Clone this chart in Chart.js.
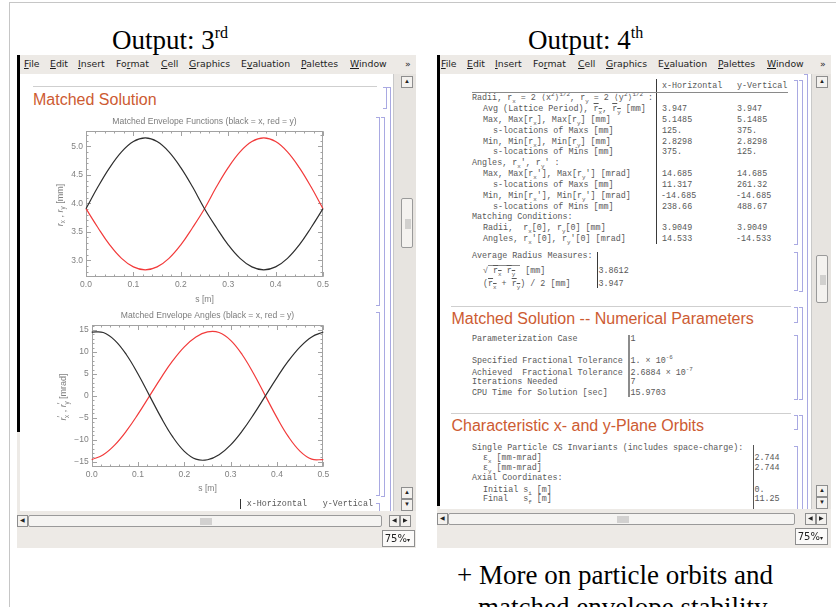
<!DOCTYPE html>
<html>
<head>
<meta charset="utf-8">
<script src="https://cdn.jsdelivr.net/npm/chart.js@4.4.1/dist/chart.umd.min.js"></script>
<style>
html, body { margin: 0; padding: 0; background: #fff; }
body { width: 836px; height: 607px; position: relative; overflow: hidden; font-family: "Liberation Sans", sans-serif; }
.big { font-family: "Liberation Serif", serif; font-size: 27px; line-height: 27px; color: #000; white-space: nowrap; }
.big .sup { font-size: 16px; position: relative; top: -11px; }
.menu { font-family: "DejaVu Sans", sans-serif; font-size: 9.3px; line-height: 9.3px; color: #1e1e1e; white-space: nowrap; }
.sec { font-family: "Liberation Sans", sans-serif; font-size: 16px; line-height: 16px; color: #cd5b32; white-space: nowrap; }
.mono { font-family: "Liberation Mono", monospace; font-size: 8.4px; line-height: 8.4px; color: #585858; white-space: nowrap; }
.mono sub, .mono sup { font-size: 70%; line-height: 0; }
.ytitle { font-family: "Liberation Sans", sans-serif; font-size: 9px; line-height: 9px; color: #808080; white-space: nowrap; transform: translate(-50%, -50%) rotate(-90deg); }
.ytitle sub { font-size: 70%; line-height: 0; }
.ov { text-decoration: overline; }
.btn { background: #f3f1ee; border: 1px solid #8e8e8e; box-sizing: border-box; font-size: 6px; line-height: 9px; text-align: center; color: #222; }
.grip { background-image: radial-gradient(#a8a8a8 0.6px, transparent 0.8px); background-size: 2px 2px; }
</style>
</head>
<body>
<script>
// ---- chart data ----
const sPos = [0, 0.025, 0.05, 0.075, 0.1, 0.125, 0.15, 0.175, 0.2, 0.225, 0.25,
              0.275, 0.3, 0.325, 0.35, 0.375, 0.4, 0.425, 0.45, 0.475, 0.5];
// matched envelope radii [mm]
const rxEnv = [3.905, 4.285, 4.627, 4.904, 5.085, 5.148, 5.085, 4.904, 4.627, 4.285, 3.905,
               3.575, 3.270, 3.032, 2.882, 2.830, 2.882, 3.032, 3.270, 3.575, 3.905];
const ryEnv = [3.905, 3.575, 3.270, 3.032, 2.882, 2.830, 2.882, 3.032, 3.270, 3.575, 3.905,
               4.285, 4.627, 4.904, 5.085, 5.148, 5.085, 4.904, 4.627, 4.285, 3.905];
// matched envelope angles [mrad]
const rxAng = [14.53, 14.42, 12.64, 9.36, 4.97, 0, -4.97, -9.36, -12.64, -14.42, -14.56,
               -13.42, -11.17, -8.00, -4.17, 0, 4.17, 8.00, 11.17, 13.42, 14.53];
const ryAng = [-14.53, -13.42, -11.17, -8.00, -4.17, 0, 4.17, 8.00, 11.17, 13.42, 14.56,
               14.42, 12.64, 9.36, 4.97, 0, -4.97, -9.36, -12.64, -14.42, -14.53];

const sTicks = [0, 0.1, 0.2, 0.3, 0.4, 0.5];
const sTickLabels = ['0.0', '0.1', '0.2', '0.3', '0.4', '0.5'];
const rTicks = [3.0, 3.5, 4.0, 4.5, 5.0];
const rTickLabels = ['3.0', '3.5', '4.0', '4.5', '5.0'];
const aTicks = [-15, -10, -5, 0, 5, 10, 15];
const aTickLabels = ['\u221215', '\u221210', '\u22125', '0', '5', '10', '15'];

// ---- small dom helpers ----
function el(parent, css, html) {
  const d = document.createElement('div');
  d.style.cssText = 'position:absolute;' + css;
  if (html !== undefined) d.innerHTML = html;
  parent.appendChild(d);
  return d;
}
function rect(p, x, y, w, h, extra) {
  return el(p, `left:${x}px;top:${y}px;width:${w}px;height:${h}px;` + (extra || ''));
}
// place text by its baseline; k = baseline offset of the font box
function text(p, cls, k, x, base, html) {
  const d = el(p, `left:${x}px;top:${base - k}px;`, html);
  d.className = cls;
  return d;
}
function bracket(p, x, y1, y2, open) {
  return rect(p, x - 3, y1, 3, y2 - y1,
    'border:1px solid #a9a9e2;border-left:none;' + (open ? 'border-bottom:none;' : ''));
}
const body = document.body;

// slide frame and headings
rect(body, 10, 2, 826, 1, 'background:#c6c6c6');
rect(body, 9, 2, 1, 605, 'background:#c6c6c6');
text(body, 'big', 22.6, 112, 50, 'Output: 3<span class="sup">rd</span>');
text(body, 'big', 22.6, 528, 50, 'Output: 4<span class="sup">th</span>');
text(body, 'big', 22.6, 457, 585, '+ More on particle orbits and');
text(body, 'big', 22.6, 478, 617, 'matched envelope stability');

const menuNames = ['<u>F</u>ile', '<u>E</u>dit', '<u>I</u>nsert', 'Fo<u>r</u>mat', '<u>C</u>ell',
                   '<u>G</u>raphics', 'E<u>v</u>aluation', '<u>P</u>alettes', '<u>W</u>indow'];
const menuOffsets = [0, 26, 54, 92, 137, 165, 217, 277, 326];

function buildWindow(w) {
  const W = w.right - w.x0;
  rect(body, w.x0, 55, W, 493, 'background:#edeae6');
  rect(body, w.x0, 55, 3, w.black - 55, 'background:#000');
  menuNames.forEach((m, i) => text(body, 'menu', 7.9, w.menuX + menuOffsets[i], 66.7, m));
  text(body, 'menu', 7.9, w.right - 11, 66.7, '\u00bb');
  // content
  const c = rect(body, w.x0 + 3, 74, w.cRight - w.x0 - 3, w.cBottom - 74, 'background:#fff;overflow:hidden');
  const inner = el(c, `left:${-(w.x0 + 3)}px;top:-74px;width:836px;height:607px;`);
  rect(body, w.cRight, 74, 1, w.cBottom - 74, 'background:#c9c9c9');
  // vertical scrollbar
  rect(body, w.cRight + 1, 74, w.right - w.cRight - 1, w.cBottom - 74, 'background:#e7e4e0');
  const vb = w.vsBtnX;
  el(body, `left:${vb}px;top:76px;width:12px;height:12px;`, '\u25b2').className = 'btn';
  const th = rect(body, vb, w.thumb[0], 12, w.thumb[1] - w.thumb[0], 'background:#f4f2ef;border:1px solid #9a9a9a;box-sizing:border-box;border-radius:2px');
  rect(th, 3, (w.thumb[1] - w.thumb[0]) / 2 - 5, 6, 10, '').className = 'grip';
  el(body, `left:${vb}px;top:${w.vsBottom - 23}px;width:12px;height:12px;`, '\u25b2').className = 'btn';
  el(body, `left:${vb}px;top:${w.vsBottom - 11}px;width:12px;height:12px;`, '\u25bc').className = 'btn';
  // horizontal scrollbar
  const hy = w.hsY;
  el(body, `left:${w.x0}px;top:${hy}px;width:11px;height:12px;`, '\u25c0').className = 'btn';
  const tr = rect(body, w.x0 + 11, hy, w.trackEnd - w.x0 - 11, 12, 'background:#f5f4f2;border:1px solid #9a9a9a;box-sizing:border-box;border-radius:2px');
  rect(tr, (w.trackEnd - w.x0 - 11) / 2 - 6, 2, 12, 7, '').className = 'grip';
  el(body, `left:${w.hBtnX}px;top:${hy}px;width:11px;height:12px;`, '\u25c0').className = 'btn';
  el(body, `left:${w.hBtnX + 11}px;top:${hy}px;width:11px;height:12px;`, '\u25b6').className = 'btn';
  // zoom box
  el(body, `left:${w.zoom[0]}px;top:${w.zoom[1]}px;width:33px;height:17px;background:#fbfaf9;border:1px solid #8e8e8e;box-sizing:border-box;font-family:'DejaVu Sans',sans-serif;font-size:10px;line-height:15px;color:#222;text-align:right;padding-right:4px;`,
     '75%<span style="font-size:6px">\u25be</span>');
  return inner;
}

const leftW = buildWindow({ x0: 17, right: 416, black: 432, menuX: 24, cRight: 393, cBottom: 511,
  vsBtnX: 401, thumb: [198, 248], vsBottom: 510, hsY: 515, trackEnd: 382, hBtnX: 389, zoom: [382, 530] });
const rightW = buildWindow({ x0: 437, right: 831, black: 506, menuX: 441, cRight: 811, cBottom: 509,
  vsBtnX: 816, thumb: [255, 303], vsBottom: 508, hsY: 513, trackEnd: 795, hBtnX: 805, zoom: [795, 528] });

// ---- left notebook: matched solution plots ----
rect(leftW, 33, 86, 344, 1, 'background:#cfcfcf');
text(leftW, 'sec', 13.5, 33, 105, 'Matched Solution');
bracket(leftW, 386, 87, 107);
bracket(leftW, 390, 87, 530, true);
bracket(leftW, 379, 117, 304);
bracket(leftW, 379, 312, 494);
bracket(leftW, 384, 117, 495);
bracket(leftW, 379, 503, 530, true);

function addCanvas(parent, x, y, w, h) {
  const cv = document.createElement('canvas');
  cv.width = w; cv.height = h;
  cv.style.cssText = `position:absolute;left:${x}px;top:${y}px;width:${w}px;height:${h}px;`;
  parent.appendChild(cv);
  return cv;
}

// Mathematica-style frame with inward ticks on all four sides, plus the plot label
const framePlugin = {
  id: 'frame',
  beforeDatasetsDraw(chart, args, o) {
    const { ctx, chartArea: a } = chart;
    const xs = chart.scales.x, ys = chart.scales.y;
    const L = Math.round(a.left) + 0.5, R = Math.round(a.right) - 0.5;
    const T = Math.round(a.top) + 0.5, B = Math.round(a.bottom) - 0.5;
    ctx.save();
    ctx.strokeStyle = '#a2a2a2';
    ctx.lineWidth = 1;
    ctx.strokeRect(L, T, R - L, B - T);
    ctx.beginPath();
    const markX = (v, len) => {
      const p = Math.round(xs.getPixelForValue(v)) + 0.5;
      ctx.moveTo(p, B); ctx.lineTo(p, B - len);
      ctx.moveTo(p, T); ctx.lineTo(p, T + len);
    };
    const markY = (v, len) => {
      const p = Math.round(ys.getPixelForValue(v)) + 0.5;
      ctx.moveTo(L, p); ctx.lineTo(L + len, p);
      ctx.moveTo(R, p); ctx.lineTo(R - len, p);
    };
    for (let k = Math.ceil(xs.min / o.xMinor - 1e-6); k * o.xMinor <= xs.max + 1e-9; k++) markX(k * o.xMinor, 2);
    for (let k = Math.ceil(ys.min / o.yMinor - 1e-6); k * o.yMinor <= ys.max + 1e-9; k++) markY(k * o.yMinor, 2);
    o.xMajor.forEach(v => markX(v, 4.5));
    o.yMajor.forEach(v => markY(v, 4.5));
    ctx.stroke();
    ctx.fillStyle = '#7c7c7c';
    ctx.font = '8.6px "Liberation Sans"';
    ctx.textAlign = 'center';
    ctx.textBaseline = 'middle';
    ctx.fillText(o.title, (a.left + a.right) / 2, o.titleY);
    ctx.restore();
  }
};

function envelopeChart(cv, cfg) {
  const tickFont = { family: 'Liberation Sans', size: 8.5 };
  return new Chart(cv, {
    type: 'line',
    data: {
      datasets: [
        { label: 'x', data: sPos.map((s, i) => ({ x: s, y: cfg.xs[i] })), borderColor: '#2e2e2e' },
        { label: 'y', data: sPos.map((s, i) => ({ x: s, y: cfg.ys[i] })), borderColor: '#f23a3a' }
      ]
    },
    options: {
      responsive: false,
      animation: false,
      layout: { padding: { left: 0, right: cfg.padRight, top: cfg.padTop, bottom: cfg.padBottom } },
      elements: {
        point: { radius: 0 },
        line: { borderWidth: 1.2, tension: 0.4, fill: false }
      },
      datasets: { line: { clip: 2 } },
      scales: {
        x: {
          type: 'linear', min: 0, max: 0.5,
          grid: { display: false, drawTicks: false },
          border: { display: false },
          afterBuildTicks: s => { s.ticks = sTicks.map(v => ({ value: v })); },
          afterFit: s => { s.height = cfg.xHeight; },
          ticks: { color: '#808080', font: tickFont, padding: 3, maxRotation: 0, autoSkip: false,
                   callback: v => sTickLabels[sTicks.indexOf(v)] },
          title: { display: true, text: 's [m]', color: '#808080', font: { family: 'Liberation Sans', size: 8.6 }, padding: 0 }
        },
        y: {
          type: 'linear', min: cfg.yMin, max: cfg.yMax,
          grid: { display: false, drawTicks: false },
          border: { display: false },
          afterBuildTicks: s => { s.ticks = cfg.yTicks.map(v => ({ value: v })); },
          afterFit: s => { s.width = cfg.yWidth; },
          ticks: { color: '#808080', font: tickFont, padding: 3, autoSkip: false,
                   callback: v => cfg.yLabels[cfg.yTicks.indexOf(v)] }
        }
      },
      plugins: {
        legend: { display: false },
        tooltip: { enabled: false },
        frame: { title: cfg.title, titleY: cfg.titleY, xMinor: 0.02, yMinor: cfg.yMinor,
                 xMajor: sTicks, yMajor: cfg.yTicks }
      }
    },
    plugins: [framePlugin]
  });
}

envelopeChart(addCanvas(leftW, 20, 110, 330, 200), {
  xs: rxEnv, ys: ryEnv, yMin: 2.71, yMax: 5.27, yTicks: rTicks, yLabels: rTickLabels, yMinor: 0.1,
  title: 'Matched Envelope Functions (black = x, red = y)', titleY: 11.7,
  padRight: 27, padTop: 21, padBottom: 5.6, xHeight: 27.7, yWidth: 66
});
envelopeChart(addCanvas(leftW, 20, 305, 330, 200), {
  xs: rxAng, ys: ryAng, yMin: -16.14, yMax: 16.14, yTicks: aTicks, yLabels: aTickLabels, yMinor: 1,
  title: 'Matched Envelope Angles (black = x, red = y)', titleY: 10.7,
  padRight: 26.7, padTop: 20, padBottom: 10.9, xHeight: 27.4, yWidth: 71.7
});
el(leftW, 'left:60px;top:205px;', '<i>r</i><sub>x</sub> , <i>r</i><sub>y</sub> [mm]').className = 'ytitle';
el(leftW, 'left:63px;top:397px;',
   '<i>r</i><span style="position:relative;top:-3px">\u2032</span><sub style="margin-left:-2px">x</sub> , <i>r</i><span style="position:relative;top:-3px">\u2032</span><sub style="margin-left:-2px">y</sub> [mrad]').className = 'ytitle';

rect(leftW, 240, 499, 1, 10, 'background:#333');
text(leftW, 'mono', 6.4, 246.7, 506, 'x-Horizontal');
text(leftW, 'mono', 6.4, 322.7, 506, 'y-Vertical');

// ---- right notebook: tables ----
const R1 = 472, R2 = 483, R3 = 493, V1 = 662, V2 = 737;
const rx = 'r<sub>x</sub>', ry = 'r<sub>y</sub>';
const tableRows = [
  [V1, 88, 'x-Horizontal'], [V2, 88, 'y-Vertical'],
  [R1, 100.5, `Radii, ${rx} = 2 \u27e8x<sup>2</sup>\u27e9<sup>1/2</sup>, ${ry} = 2 \u27e8y<sup>2</sup>\u27e9<sup>1/2</sup> :`],
  [R2, 111.4, `Avg (Lattice Period), <span class="ov">${rx}</span>, <span class="ov">${ry}</span> [mm]`], [V1, 111.4, '3.947'], [V2, 111.4, '3.947'],
  [R2, 122.2, `Max, Max[${rx}], Max[${ry}] [mm]`], [V1, 122.2, '5.1485'], [V2, 122.2, '5.1485'],
  [R3, 133, 's-locations of Maxs [mm]'], [V1, 133, '125.'], [V2, 133, '375.'],
  [R2, 143.9, `Min, Min[${rx}], Min[${ry}] [mm]`], [V1, 143.9, '2.8298'], [V2, 143.9, '2.8298'],
  [R3, 154.7, 's-locations of Mins [mm]'], [V1, 154.7, '375.'], [V2, 154.7, '125.'],
  [R1, 165.6, `Angles, ${rx}', ${ry}' :`],
  [R2, 176.5, `Max, Max[${rx}'], Max[${ry}'] [mrad]`], [V1, 176.5, '14.685'], [V2, 176.5, '14.685'],
  [R3, 187.3, 's-locations of Maxs [mm]'], [V1, 187.3, '11.317'], [V2, 187.3, '261.32'],
  [R2, 198.1, `Min, Min[${rx}'], Min[${ry}'] [mrad]`], [V1 - 1, 198.1, '-14.685'], [V2 - 1, 198.1, '-14.685'],
  [R3, 209, 's-locations of Mins [mm]'], [V1, 209, '238.66'], [V2, 209, '488.67'],
  [R1, 219.8, 'Matching Conditions:'],
  [R2, 230.7, `Radii,&nbsp; ${rx}[0], ${ry}[0] [mm]`], [V1, 230.7, '3.9049'], [V2, 230.7, '3.9049'],
  [R2, 241.5, `Angles, ${rx}'[0], ${ry}'[0] [mrad]`], [V1, 241.5, '14.533'], [V2 - 1, 241.5, '-14.533'],
  [R1, 258.3, 'Average Radius Measures:'],
  [R2, 273, `\u221a<span style="border-top:1px solid #888">&nbsp;<span class="ov">${rx}</span> <span class="ov">${ry}</span>&nbsp;</span> [mm]`], [598.5, 273, '3.8612'],
  [R2, 286, `(<span class="ov">${rx}</span> + <span class="ov">${ry}</span>) / 2 [mm]`], [598.5, 286, '3.947'],
  [R1, 341.7, 'Parameterization Case'], [630.5, 341.7, '1'],
  [R1, 363.3, 'Specified Fractional Tolerance'], [630.5, 363.3, '1. \u00d7 10<sup>-6</sup>'],
  [R1, 375, 'Achieved&nbsp; Fractional Tolerance'], [630.5, 375, '2.6884 \u00d7 10<sup>-7</sup>'],
  [R1, 384.3, 'Iterations Needed'], [630.5, 384.3, '7'],
  [R1, 395, 'CPU Time for Solution [sec]'], [630.5, 395, '15.9703'],
  [R1, 450.7, 'Single Particle CS Invariants (includes space-charge):'],
  [R2, 460, '\u03b5<sub>x</sub> [mm-mrad]'], [754.5, 460, '2.744'],
  [R2, 470, '\u03b5<sub>y</sub> [mm-mrad]'], [754.5, 470, '2.744'],
  [R1, 480.7, 'Axial Coordinates:'],
  [R2, 492.3, 'Initial s<sub>i</sub> [m]'], [754.5, 492.3, '0.'],
  [R2, 501.7, 'Final&nbsp;&nbsp; s<sub>f</sub> [m]'], [754.5, 501.7, '11.25']
];
tableRows.forEach(r => text(rightW, 'mono', 6.4, r[0], r[1], r[2]));

rect(rightW, 656, 79, 1, 165, 'background:#3a3a3a');
rect(rightW, 472, 91.5, 316, 1.5, 'background:#8a8a8a');
rect(rightW, 597, 252, 1, 36, 'background:#3a3a3a');
rect(rightW, 628, 335, 2, 62, 'background:#8c8c8c');
rect(rightW, 752.5, 445, 1.5, 70, 'background:#555');

rect(rightW, 451, 306, 340, 1, 'background:#cfcfcf');
text(rightW, 'sec', 13.5, 451.5, 324, 'Matched Solution -- Numerical Parameters');
rect(rightW, 451, 413, 340, 1, 'background:#cfcfcf');
text(rightW, 'sec', 13.5, 451.5, 431.7, 'Characteristic x- and y-Plane Orbits');

bracket(rightW, 797, 80, 243);
bracket(rightW, 797, 252, 289);
bracket(rightW, 802, 80, 290);
bracket(rightW, 807, 74, 530, true);
bracket(rightW, 797, 307, 321);
bracket(rightW, 802, 307, 398);
bracket(rightW, 797, 335, 398);
bracket(rightW, 797, 415, 428);
bracket(rightW, 802, 415, 530, true);
bracket(rightW, 797, 446, 530, true);
</script>
</body>
</html>
